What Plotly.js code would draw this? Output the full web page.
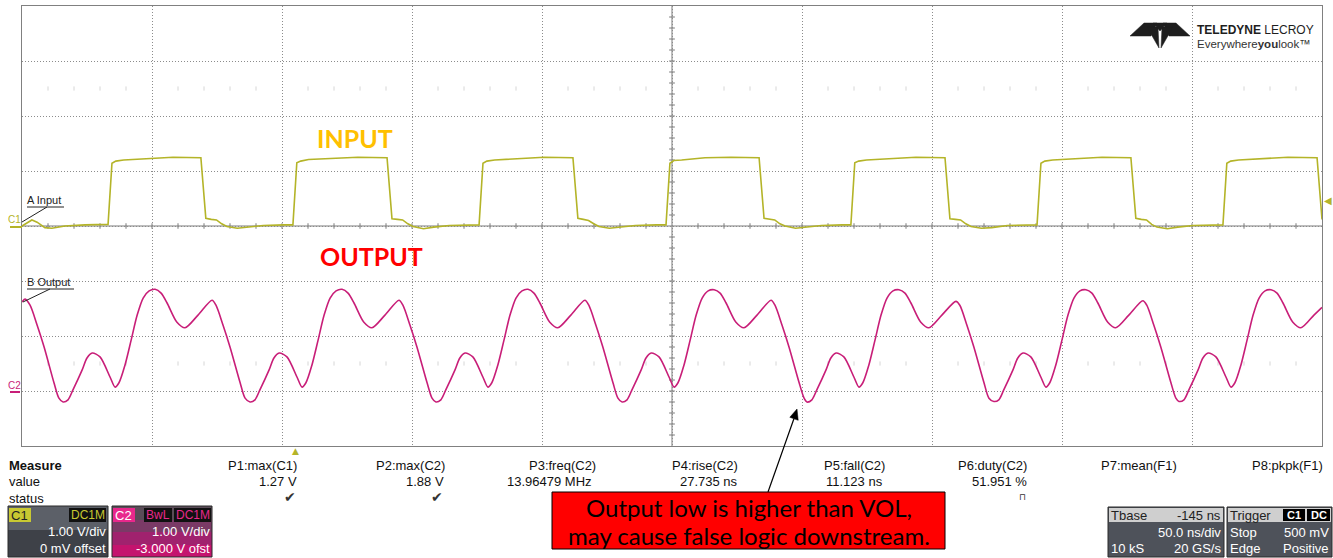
<!DOCTYPE html>
<html><head><meta charset="utf-8">
<script src="https://cdn.plot.ly/plotly-3.0.1.min.js"></script>
<style>html,body{margin:0;padding:0;background:#fff;overflow:hidden}#chart{width:1333px;height:558px}</style>
</head><body><div id="chart"></div>
<script>
// ---- C1 (INPUT) trace: time in ns, volts ----
const inputTimeNs = [-250.0,-248.1,-246.2,-244.2,-241.2,-238.5,-233.5,-225.8,-218.1,
-216.9,-215.4,-213.9,-210.9,-201.9,-191.9,-181.2,-179.3,-177.2,-175.2,-173.2,-171.2,-167.2,-163.2,-157.2,-149.2,
-145.8,-144.3,-142.8,-139.8,-130.8,-120.8,-109.6,-107.7,-105.6,-103.6,-101.6,-99.6,-95.6,-91.6,-85.6,-77.6,
-74.2,-72.7,-71.2,-68.2,-59.2,-49.2,-38.1,-36.2,-34.1,-32.1,-30.1,-28.1,-24.1,-20.1,-14.1,-6.1,
-2.3,-0.8,0.7,3.7,12.7,22.7,33.5,35.4,37.5,39.5,41.5,43.5,47.5,51.5,57.5,65.5,
68.8,70.3,71.8,74.8,83.8,93.8,105.0,106.9,109.0,111.0,113.0,115.0,119.0,123.0,129.0,137.0,
140.4,141.9,143.4,146.4,155.4,165.4,176.5,178.4,180.5,182.5,184.5,186.5,190.5,194.5,200.5,208.5,
211.9,213.4,214.9,217.9,226.9,236.9,248.1,250.0];
const inputVolts = [0.00,0.05,0.11,0.07,-0.03,-0.04,0.00,0.02,0.03,
0.03,1.14,1.18,1.20,1.23,1.25,1.24,0.14,0.12,0.11,0.04,-0.01,-0.04,-0.02,0.01,0.02,
0.02,1.15,1.18,1.21,1.23,1.25,1.24,0.13,0.12,0.11,0.04,-0.01,-0.05,-0.02,0.01,0.02,
0.02,1.14,1.18,1.20,1.23,1.25,1.24,0.14,0.12,0.10,0.04,-0.01,-0.04,-0.02,0.01,0.02,
0.02,1.14,1.19,1.20,1.24,1.25,1.24,0.14,0.12,0.11,0.04,0.00,-0.04,-0.02,0.01,0.02,
0.02,1.15,1.18,1.20,1.23,1.25,1.24,0.13,0.12,0.11,0.04,-0.01,-0.04,-0.03,0.01,0.02,
0.02,1.14,1.18,1.20,1.23,1.25,1.24,0.14,0.12,0.11,0.03,-0.02,-0.05,-0.02,0.01,0.02,
0.02,1.14,1.18,1.20,1.23,1.25,1.24,0.12];

// ---- C2 (OUTPUT) trace: time in ns, volts ----
const outputTimeNs = [-250.0,-248.8,-246.9,-244.2,-241.5,-237.7,-235.8,
-234.2,-232.3,-230.4,-226.9,-225.0,-223.0,-220.0,-216.1,-214.2,-212.7,-210.4,-208.0,-205.7,-203.4,-201.1,-198.8,-196.5,-194.2,-190.4,-187.3,-182.3,-176.9,-175.4,-172.7,-170.0,-166.1,-164.2,
-162.3,-160.4,-158.5,-155.0,-153.1,-151.1,-148.1,-144.2,-142.3,-140.8,-138.5,-136.1,-133.8,-131.5,-129.2,-126.9,-124.6,-122.3,-118.5,-115.4,-110.4,-105.0,-103.5,-100.8,-98.1,-94.2,-92.3,
-90.8,-88.9,-87.0,-83.5,-81.6,-79.6,-76.6,-72.7,-70.8,-69.3,-67.0,-64.6,-62.3,-60.0,-57.7,-55.4,-53.1,-50.8,-47.0,-43.9,-38.9,-33.5,-32.0,-29.3,-26.6,-22.7,-20.8,
-19.2,-17.3,-15.4,-11.9,-10.0,-8.0,-5.0,-1.1,0.8,2.3,4.6,7.0,9.3,11.6,13.9,16.2,18.5,20.8,24.6,27.7,32.7,38.1,39.6,42.3,45.0,48.9,50.8,
51.9,53.8,55.7,59.2,61.1,63.1,66.1,70.0,71.9,73.4,75.7,78.1,80.4,82.7,85.0,87.3,89.6,91.9,95.7,98.8,103.8,109.2,110.7,113.4,116.1,120.0,121.9,
123.8,125.7,127.6,131.1,133.0,135.0,138.0,141.9,143.8,145.3,147.6,150.0,152.3,154.6,156.9,159.2,161.5,163.8,167.6,170.7,175.7,181.1,182.6,185.3,188.0,191.9,193.8,
195.0,196.9,198.8,202.3,204.2,206.2,209.2,213.1,215.0,216.5,218.8,221.2,223.5,225.8,228.1,230.4,232.7,235.0,238.8,241.9,246.9,250.0];
const outputVolts = [1.62,1.67,1.56,1.20,0.80,0.15,-0.13,
-0.20,-0.16,0.02,0.38,0.60,0.69,0.62,0.25,0.07,0.15,0.47,0.93,1.38,1.69,1.82,1.85,1.78,1.60,1.25,1.15,1.38,1.65,1.56,1.20,0.80,0.15,-0.13,
-0.20,-0.16,0.02,0.38,0.60,0.69,0.62,0.25,0.07,0.15,0.47,0.93,1.38,1.69,1.82,1.85,1.78,1.60,1.25,1.15,1.38,1.65,1.56,1.20,0.80,0.15,-0.13,
-0.20,-0.16,0.02,0.38,0.60,0.69,0.62,0.25,0.07,0.15,0.47,0.93,1.38,1.69,1.82,1.85,1.78,1.60,1.25,1.15,1.38,1.65,1.56,1.20,0.80,0.15,-0.13,
-0.20,-0.16,0.02,0.38,0.60,0.69,0.62,0.25,0.07,0.15,0.47,0.93,1.38,1.69,1.82,1.84,1.78,1.60,1.25,1.15,1.38,1.65,1.56,1.20,0.80,0.15,-0.13,
-0.20,-0.16,0.02,0.38,0.60,0.69,0.62,0.25,0.07,0.15,0.47,0.93,1.38,1.69,1.82,1.84,1.78,1.60,1.25,1.15,1.38,1.63,1.56,1.20,0.80,0.15,-0.13,
-0.19,-0.16,0.02,0.38,0.60,0.69,0.62,0.25,0.07,0.15,0.47,0.93,1.38,1.69,1.82,1.84,1.78,1.60,1.25,1.15,1.38,1.64,1.56,1.20,0.80,0.15,-0.13,
-0.19,-0.16,0.02,0.38,0.60,0.69,0.62,0.25,0.07,0.15,0.47,0.93,1.38,1.69,1.82,1.84,1.78,1.60,1.25,1.15,1.38,1.52];

// ---- measurement table ----
const measureNames  = ['P1:max(C1)','P2:max(C2)','P3:freq(C2)','P4:rise(C2)','P5:fall(C2)','P6:duty(C2)','P7:mean(F1)','P8:pkpk(F1)'];
const measureValues = ['1.27 V','1.88 V','13.96479 MHz','27.735 ns','11.123 ns','51.951 %','',''];
const measureStatus = ['✔','✔','','','','⊓','',''];
const channelInfo = [
  {name:'C1', tags:['DC1M'], scale:'1.00 V/div', offset:'0 mV offset'},
  {name:'C2', tags:['BwL','DC1M'], scale:'1.00 V/div', offset:'-3.000 V ofst'}
];
const timebase = {pos:'-145 ns', scale:'50.0 ns/div', samples:'10 kS', rate:'20 GS/s'};
const trigger = {mode:'Stop', level:'500 mV', type:'Edge', slope:'Positive'};
const calloutLines = ['Output low is higher than VOL,', 'may cause false logic downstream.'];

// ---- layout helpers (pixel -> paper) ----
const L=22, T=6, PW=1300, PH=440;
const px = x => (x - L) / PW;
const py = y => (T + PH - y) / PH;
const FONT = 'Liberation Sans, Arial, sans-serif';
const OLIVE = '#b4b428', MAG = '#c81e78';
const annotations = [], shapes = [];
function txt(text, x, y, o) {
  o = o || {};
  annotations.push({xref:'paper', yref:'paper', x:px(x), y:py(y), text:text, showarrow:false,
    xanchor:o.xa||'left', yanchor:'middle', borderpad:0,
    font:{family:o.family||FONT, size:o.size||13, color:o.color||'#111'}});
}
function rect(x0,y0,x1,y1,fill,lc,layer){
  shapes.push({type:'rect',xref:'paper',yref:'paper',x0:px(x0),x1:px(x1),y0:py(y1),y1:py(y0),
    fillcolor:fill,line:{color:lc||fill,width:lc?1:0},layer:layer||'above'});
}
function seg(x0,y0,x1,y1,color,w,layer){
  shapes.push({type:'line',xref:'paper',yref:'paper',x0:px(x0),y0:py(y0),x1:px(x1),y1:py(y1),
    line:{color:color,width:w||1},layer:layer||'above'});
}
function poly(pts, color){
  let d = pts.map((p,i)=>(i?'L':'M')+px(p[0])+','+py(p[1])).join(' ')+' Z';
  shapes.push({type:'path',xref:'paper',yref:'paper',path:d,fillcolor:color,line:{color:color,width:0.5}});
}

// graticule center cross (solid) with minor ticks
shapes.push({type:'line',xref:'x',yref:'y',x0:0,x1:0,y0:-4,y1:4,line:{color:'#7a7a7a',width:1},layer:'below'});
shapes.push({type:'line',xref:'x',yref:'y',x0:-250,x1:250,y0:0,y1:0,line:{color:'#7a7a7a',width:1},layer:'below'});
for (let k=-24;k<=24;k++){ if(k===0) continue;
  shapes.push({type:'line',xref:'x',yref:'y',x0:k*10,x1:k*10,y0:-0.05,y1:0.05,line:{color:'#7a7a7a',width:1},layer:'below'}); }
for (let k=-19;k<=19;k++){ if(k===0) continue;
  shapes.push({type:'line',xref:'x',yref:'y',x0:-1.1,x1:1.1,y0:k*0.2,y1:k*0.2,line:{color:'#7a7a7a',width:1},layer:'below'}); }
// faint marker rows
const faintX=[], faintY=[];
for (let k=-24;k<=24;k++){ if(k%5===0) continue; faintX.push(k*10,k*10); faintY.push(2.5,-2.5); }

// channel labels and leaders
txt('A Input', 26, 200, {size:11, color:'#222'});
seg(27,207,64,207,'#222',1); seg(47,207,22,222,'#222',1);
txt('B Output', 26, 282, {size:11, color:'#222'});
seg(27,289,74,289,'#222',1); seg(50,289,23,302,'#222',1);
txt('C1', 7, 219, {size:10, color:OLIVE});
seg(10,227,22,227,OLIVE,2);
txt('C2', 7, 385, {size:10, color:MAG});
seg(10,392,20,392,MAG,2);
txt('◀', 1328, 200, {xa:'center', size:10, color:OLIVE, family:'DejaVu Sans'});
txt('▲', 295, 451, {xa:'center', size:9, color:OLIVE, family:'DejaVu Sans'});

// big labels
txt('<b>INPUT</b>', 355, 138, {xa:'center', size:25, color:'#FFC000', family:'Lato, sans-serif'});
txt('<b>OUTPUT</b>', 371, 256, {xa:'center', size:25, color:'#FF0000', family:'Lato, sans-serif'});

// logo
poly([[1130,36],[1144,23],[1157,23],[1151,36]], '#1e1e1e');
poly([[1190,36],[1176,23],[1163,23],[1169,36]], '#1e1e1e');
poly([[1147,27],[1158,27],[1159,48]], '#1e1e1e');
poly([[1162,27],[1173,27],[1161,48]], '#1e1e1e');
poly([[1153,23],[1167,23],[1160,31]], '#1e1e1e');
txt('<b>TELEDYNE</b> LECROY', 1196, 30, {size:12, color:'#1e1e1e'});
txt('Everywhere<b>you</b>look™', 1196, 44, {size:11.5, color:'#333'});

// measure table
txt('<b>Measure</b>', 8, 465); txt('value', 8, 481); txt('status', 8, 498);
const nameRight  = [298, 446, 597, 739, 886, 1028, 1178, 1324];
const valueRight = [298, 445, 593, 739, 884, 1028, 1178, 1324];
measureNames.forEach((n,i)=>{
  txt(n, nameRight[i], 465, {xa:'right'});
  if (measureValues[i]) txt(measureValues[i], valueRight[i], 481, {xa:'right'});
  if (measureStatus[i]) txt(measureStatus[i], valueRight[i]-1, 497, {xa:'right', size:(i===5?9:14), color:'#333', family:'DejaVu Sans'});
});

// channel boxes
rect(8,506,108,530,'#5c6068'); rect(8,530,108,557,'#3e4148'); rect(8,506,108,557,'rgba(0,0,0,0)','#2a2a2a');
rect(9,508,31,522,'#c8c832');
txt(channelInfo[0].name, 10, 515, {color:'#222'});
rect(69,508,106,522,'#111');
txt(channelInfo[0].tags[0], 87.5, 515, {xa:'center', size:12, color:'#c8c832'});
txt(channelInfo[0].scale, 107, 531, {xa:'right', color:'#fff'});
txt(channelInfo[0].offset, 107, 548, {xa:'right', color:'#fff'});

rect(112,506,212,520,'#5a4c58'); rect(112,520,212,532,'#7a3a66'); rect(112,532,212,545,'#a0226e'); rect(112,545,212,557,'#c4146e');
rect(112,506,212,557,'rgba(0,0,0,0)','#2a2a2a');
rect(113,508,135,522,'#e8288c');
txt(channelInfo[1].name, 114, 515, {color:'#fff'});
rect(144,508,172,522,'#111'); txt(channelInfo[1].tags[0], 158, 515, {xa:'center', size:12, color:'#e8288c'});
rect(174,508,211,522,'#111'); txt(channelInfo[1].tags[1], 192.5, 515, {xa:'center', size:12, color:'#e8288c'});
txt(channelInfo[1].scale, 211, 531, {xa:'right', color:'#fff'});
txt(channelInfo[1].offset, 211, 548, {xa:'right', color:'#fff'});

// timebase box
rect(1108,507,1224,557,'#4e525a','#2a2a2a'); rect(1109,508,1223,522,'#cfcfcf');
txt('Tbase', 1110, 515, {color:'#222'}); txt(timebase.pos, 1222, 515, {xa:'right', color:'#222'});
txt(timebase.scale, 1222, 532, {xa:'right', color:'#fff'});
txt(timebase.samples, 1110, 548, {color:'#fff'}); txt(timebase.rate, 1222, 548, {xa:'right', color:'#fff'});
// trigger box
rect(1227,507,1332,557,'#4e525a','#2a2a2a'); rect(1228,508,1331,522,'#cfcfcf');
txt('Trigger', 1229, 515, {color:'#222'});
rect(1283,509,1305,521,'#000'); txt('<b>C1</b>', 1294, 515, {xa:'center', size:11, color:'#fff'});
rect(1307,509,1330,521,'#000'); txt('<b>DC</b>', 1318.5, 515, {xa:'center', size:11, color:'#fff'});
txt(trigger.mode, 1229, 532, {color:'#fff'}); txt(trigger.level, 1330, 532, {xa:'right', color:'#fff'});
txt(trigger.type, 1229, 548, {color:'#fff'}); txt(trigger.slope, 1330, 548, {xa:'right', color:'#fff'});

// red callout + arrow
seg(768,492,794,418.5,'#000',1.2);
poly([[797,409],[798.2,420.3],[789.8,417.3]], '#000');
rect(552,492,945,549,'#ff0000','#000');
txt(calloutLines[0], 748.5, 507, {xa:'center', size:24, color:'#000', family:'Lato, sans-serif'});
txt(calloutLines[1], 748.5, 535, {xa:'center', size:24, color:'#000', family:'Lato, sans-serif'});

const gridAxis = {showgrid:true, gridcolor:'#8c8c8c', griddash:'1px,2px', gridwidth:1, zeroline:false,
  showline:true, mirror:true, linecolor:'#808080', linewidth:1, ticks:'', showticklabels:false, fixedrange:true};

const data = [
  {x:faintX, y:faintY, type:'scatter', mode:'markers', hoverinfo:'skip',
   marker:{symbol:'line-ns-open', size:3, color:'#d6d6d6', line:{color:'#d6d6d6', width:1}}},
  {x:inputTimeNs, y:inputVolts, type:'scatter', mode:'lines', name:'C1', hoverinfo:'skip',
   line:{color:OLIVE, width:1.6}},
  {x:outputTimeNs, y:outputVolts, type:'scatter', mode:'lines', name:'C2', yaxis:'y2', hoverinfo:'skip',
   line:{color:MAG, width:1.6, shape:'spline', smoothing:0.8}}
];
const layout = {
  width:1333, height:558, margin:{l:22, r:11, t:6, b:112, pad:0},
  paper_bgcolor:'#fff', plot_bgcolor:'#fff', showlegend:false, hovermode:false,
  xaxis:Object.assign({range:[-250,250], tick0:0, dtick:50}, gridAxis),
  yaxis:Object.assign({range:[-4,4], tick0:0, dtick:1}, gridAxis),
  yaxis2:{range:[-1,7], overlaying:'y', visible:false, fixedrange:true},
  shapes:shapes, annotations:annotations
};
Plotly.newPlot('chart', data, layout, {staticPlot:true, displayModeBar:false});
</script></body></html>
